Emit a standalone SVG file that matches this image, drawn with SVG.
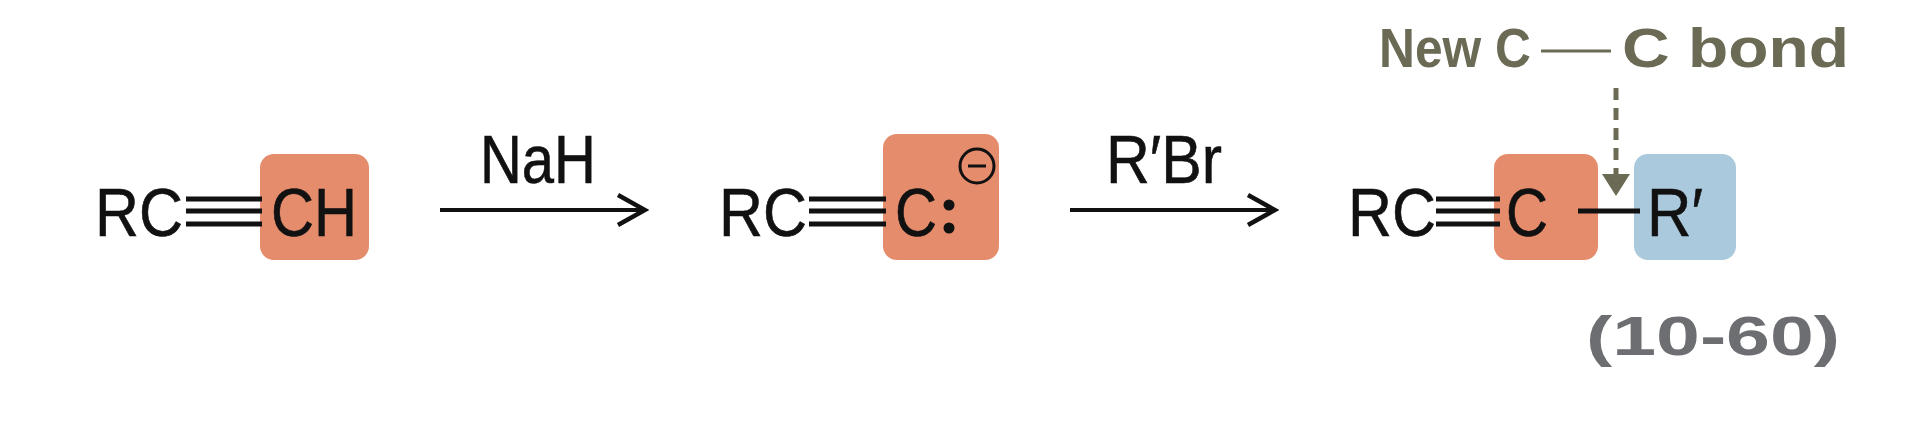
<svg xmlns="http://www.w3.org/2000/svg" width="1916" height="430" viewBox="0 0 1916 430">
<style>
.t{font-family:"Liberation Sans",Arial,sans-serif;font-size:68px;fill:#111;stroke:#111;stroke-width:0.6}
.b{font-family:"Liberation Sans",Arial,sans-serif;font-size:56px;font-weight:bold}
.bond{stroke:#111;stroke-width:5}
.or{fill:#e58c6c}
.bl{fill:#abc9dc}
</style>
<defs>
<marker id="ah" markerWidth="34" markerHeight="34" refX="31" refY="17" orient="auto" markerUnits="userSpaceOnUse"><path d="M3,2 L30,17 L3,32" fill="none" stroke="#111" stroke-width="4.5"/></marker>
</defs>
<rect width="1916" height="430" fill="#fff"/>
<g id="reactant">
<rect class="or" x="260" y="154" width="109" height="106" rx="14"/>
<text class="t" x="95" y="236" textLength="88" lengthAdjust="spacingAndGlyphs">RC</text>
<path class="bond" d="M186 199H262M186 211H262M186 224H262"/>
<text class="t" x="271" y="236" textLength="86" lengthAdjust="spacingAndGlyphs">CH</text>
</g>
<g id="anion">
<rect class="or" x="883" y="134" width="116" height="126" rx="14"/>
<text class="t" x="719" y="236" textLength="88" lengthAdjust="spacingAndGlyphs">RC</text>
<path class="bond" d="M809 199H886M809 211H886M809 224H886"/>
<text class="t" x="895" y="236" textLength="42" lengthAdjust="spacingAndGlyphs">C</text>
<circle cx="949" cy="205" r="5.5" fill="#111"/><circle cx="949" cy="228" r="5.5" fill="#111"/>
<circle cx="977" cy="166" r="17" fill="none" stroke="#111" stroke-width="3"/>
<path d="M968 166H986" stroke="#111" stroke-width="3"/>
</g>
<g id="product">
<rect class="or" x="1494" y="154" width="104" height="106" rx="14"/>
<rect class="bl" x="1634" y="154" width="102" height="106" rx="14"/>
<text class="t" x="1348" y="236" textLength="88" lengthAdjust="spacingAndGlyphs">RC</text>
<path class="bond" d="M1436 199H1500M1436 211H1500M1436 224H1500"/>
<text class="t" x="1506" y="236" textLength="42" lengthAdjust="spacingAndGlyphs">C</text>
<path class="bond" d="M1578 211H1640"/>
<text class="t" x="1647" y="236" textLength="56" lengthAdjust="spacingAndGlyphs">R′</text>
</g>
<g id="label-new-bond">
<text class="b" x="1379" y="67" fill="#6b6a55" textLength="152" lengthAdjust="spacingAndGlyphs">New C</text>
<path d="M1541 51H1611" stroke="#6b6a55" stroke-width="3"/>
<text class="b" x="1622" y="67" fill="#6b6a55" textLength="227" lengthAdjust="spacingAndGlyphs">C bond</text>
</g>
<g id="eq-number"><text class="b" x="1586" y="355" fill="#6d6e71" font-size="64" textLength="254" lengthAdjust="spacingAndGlyphs">(10-60)</text></g>
<g id="connectors">
<path d="M440 210H646" stroke="#111" stroke-width="4" marker-end="url(#ah)"/>
<text class="t" x="480" y="183" font-size="58" textLength="116" lengthAdjust="spacingAndGlyphs">NaH</text>
<path d="M1070 210H1276" stroke="#111" stroke-width="4" marker-end="url(#ah)"/>
<text class="t" x="1106" y="183" font-size="58" textLength="116" lengthAdjust="spacingAndGlyphs">R′Br</text>
<path d="M1616 88V176" stroke="#6b6a55" stroke-width="5" stroke-dasharray="12,8"/>
<path d="M1602 174H1630L1616 196Z" fill="#6b6a55"/>
</g>
</svg>
